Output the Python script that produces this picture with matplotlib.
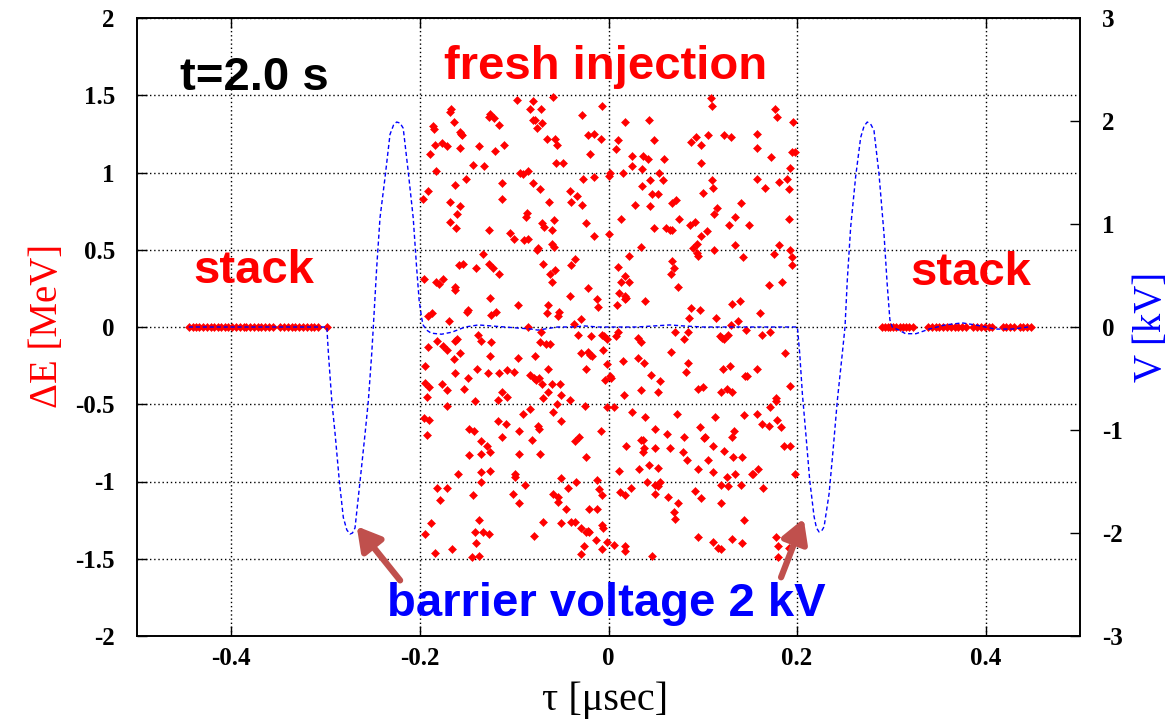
import numpy as np
import matplotlib.pyplot as plt

# freshly injected particles: (tau [usec], dE [MeV]), one list per area of the bucket
fresh_upper_left = [
    (-0.097, 1.47), (-0.080, 1.46), (-0.059, 1.49), (-0.167, 1.41), (-0.168, 1.39),
    (-0.083, 1.41), (-0.072, 1.41), (-0.126, 1.38), (-0.127, 1.36), (-0.121, 1.35),
    (-0.028, 1.37), (-0.164, 1.33), (-0.080, 1.34), (-0.078, 1.34), (-0.070, 1.32),
    (-0.116, 1.31), (-0.186, 1.30), (-0.185, 1.28), (-0.076, 1.29), (-0.158, 1.26),
    (-0.156, 1.25), (-0.155, 1.24), (-0.022, 1.24), (-0.015, 1.25), (-0.065, 1.22),
    (-0.057, 1.22), (-0.184, 1.18), (-0.177, 1.19), (-0.171, 1.17), (-0.157, 1.16),
    (-0.137, 1.17), (-0.111, 1.18), (-0.055, 1.18), (-0.120, 1.14), (-0.189, 1.12),
    (-0.020, 1.12), (-0.144, 1.05), (-0.132, 1.04), (-0.056, 1.06), (-0.048, 1.06),
    (-0.183, 1.01), (-0.094, 1.00), (-0.091, 0.99), (-0.085, 1.01), (-0.151, 0.96),
    (-0.015, 0.97), (-0.027, 0.96), (-0.163, 0.92), (-0.113, 0.93), (-0.080, 0.93),
    (-0.191, 0.88), (-0.073, 0.89), (-0.041, 0.88), (-0.197, 0.83), (-0.168, 0.81),
    (-0.113, 0.83), (-0.033, 0.85), (-0.063, 0.81), (-0.040, 0.81), (-0.157, 0.78),
    (-0.028, 0.79), (-0.086, 0.74), (-0.161, 0.73), (-0.088, 0.71), (-0.168, 0.68),
    (-0.071, 0.67), (-0.068, 0.65), (-0.058, 0.69), (-0.024, 0.67), (-0.162, 0.64),
    (-0.127, 0.63), (-0.060, 0.63), (-0.104, 0.61), (-0.100, 0.57), (-0.090, 0.56),
    (-0.085, 0.57), (-0.015, 0.59), (-0.075, 0.51), (-0.060, 0.54), (-0.058, 0.52),
]

fresh_upper_right = [
    (0.109, 1.485), (-0.007, 1.43), (0.110, 1.43), (0.177, 1.41), (0.179, 1.36),
    (0.018, 1.33), (0.043, 1.34), (0.196, 1.33), (-0.008, 1.22), (0.010, 1.21),
    (0.048, 1.21), (0.087, 1.20), (0.093, 1.23), (0.098, 1.18), (0.106, 1.24),
    (0.123, 1.24), (0.130, 1.23), (0.157, 1.25), (0.158, 1.16), (0.008, 1.15),
    (0.025, 1.11), (0.037, 1.11), (0.042, 1.09), (0.059, 1.09), (0.172, 1.10),
    (0.195, 1.13), (0.198, 1.13), (0.098, 1.06), (0.025, 1.04), (0.036, 1.02),
    (0.193, 1.03), (0.002, 1.00), (0.001, 0.98), (0.015, 1.00), (0.054, 1.00),
    (0.110, 0.95), (0.158, 0.96), (0.189, 0.96), (0.044, 0.95), (0.058, 0.95),
    (0.036, 0.91), (0.111, 0.90), (0.166, 0.90), (0.181, 0.94), (0.191, 0.89),
    (0.100, 0.87), (0.046, 0.86), (0.053, 0.86), (0.067, 0.80), (0.072, 0.82),
    (0.141, 0.80), (0.028, 0.79), (0.044, 0.78), (0.115, 0.77), (0.112, 0.73),
    (0.013, 0.70), (0.075, 0.70), (0.134, 0.71), (0.191, 0.70), (0.048, 0.64),
    (0.061, 0.64), (0.065, 0.63), (0.067, 0.63), (0.086, 0.66), (0.092, 0.68),
    (0.128, 0.66), (0.149, 0.66), (0.104, 0.62), (0.098, 0.59), (0.000, 0.60),
    (0.094, 0.54), (0.090, 0.51), (0.034, 0.52), (0.134, 0.53), (0.181, 0.53),
    (0.112, 0.50), (0.193, 0.50),
]

fresh_mid_left = [
    (-0.076, 0.50), (-0.133, 0.47), (-0.159, 0.40), (-0.154, 0.41), (-0.140, 0.38),
    (-0.127, 0.41), (-0.123, 0.38), (-0.116, 0.34), (-0.069, 0.41), (-0.062, 0.34),
    (-0.057, 0.37), (-0.060, 0.29), (-0.040, 0.40), (-0.035, 0.44), (-0.196, 0.31),
    (-0.183, 0.29), (-0.180, 0.28), (-0.176, 0.31), (-0.163, 0.26), (-0.163, 0.24),
    (-0.126, 0.19), (-0.022, 0.25), (-0.041, 0.20), (-0.012, 0.18), (-0.011, 0.13),
    (-0.096, 0.14), (-0.064, 0.14), (-0.149, 0.11), (-0.150, 0.10), (-0.187, 0.09),
    (-0.191, 0.07), (-0.125, 0.08), (-0.119, 0.10), (-0.065, 0.09), (-0.053, 0.10),
    (-0.054, 0.07), (-0.169, 0.04), (-0.029, 0.05), (-0.037, 0.02), (-0.085, 0.00),
    (-0.072, -0.03), (-0.138, -0.05), (-0.135, -0.09), (-0.125, -0.10), (-0.182, -0.09),
    (-0.191, -0.13), (-0.176, -0.12), (-0.171, -0.15), (-0.161, -0.08), (-0.163, -0.09),
    (-0.158, -0.17), (-0.164, -0.21), (-0.126, -0.19), (-0.096, -0.20), (-0.073, -0.10),
    (-0.066, -0.11), (-0.062, -0.11), (-0.078, -0.19), (-0.064, -0.27), (-0.032, -0.05),
    (-0.019, -0.06), (-0.029, -0.17), (-0.022, -0.16), (-0.020, -0.18), (-0.018, -0.19),
    (-0.024, -0.27), (-0.195, -0.25), (-0.163, -0.30), (-0.139, -0.27), (-0.128, -0.30),
    (-0.116, -0.30), (-0.108, -0.28), (-0.100, -0.29), (-0.083, -0.31), (-0.079, -0.33),
    (-0.077, -0.34), (-0.074, -0.33), (-0.149, -0.33), (-0.195, -0.36), (-0.190, -0.39),
    (-0.177, -0.37), (-0.171, -0.41), (-0.153, -0.40), (-0.071, -0.37), (-0.064, -0.42),
    (-0.060, -0.37), (-0.051, -0.37), (-0.050, -0.44), (-0.192, -0.45), (-0.142, -0.48),
    (-0.117, -0.47), (-0.113, -0.42), (-0.108, -0.45), (-0.069, -0.46), (-0.055, -0.50),
    (-0.041, -0.47), (-0.025, -0.51), (-0.171, -0.51), (-0.083, -0.53),
]

fresh_mid_right = [
    (0.094, 0.48), (0.095, 0.46), (0.022, 0.46), (0.067, 0.43), (0.069, 0.38),
    (0.066, 0.34), (0.010, 0.39), (0.017, 0.33), (0.013, 0.29), (0.022, 0.29),
    (0.011, 0.22), (0.017, 0.20), (0.019, 0.19), (0.018, 0.18), (0.009, 0.14),
    (0.039, 0.17), (0.074, 0.26), (0.143, 0.45), (0.175, 0.47), (0.195, 0.45),
    (0.195, 0.40), (0.170, 0.27), (0.184, 0.29), (0.087, 0.12), (0.097, 0.11),
    (0.085, 0.06), (0.114, 0.06), (0.131, 0.15), (0.139, 0.17), (0.137, 0.04),
    (0.161, 0.09), (0.130, 0.01), (-0.007, -0.05), (-0.005, -0.06), (-0.002, -0.08),
    (0.010, -0.03), (0.008, -0.06), (-0.006, -0.15), (-0.002, -0.24), (-0.004, -0.34),
    (0.002, -0.32), (0.003, -0.33), (0.070, -0.03), (0.084, -0.03), (0.080, -0.08),
    (0.031, -0.07), (0.034, -0.10), (0.118, -0.06), (0.120, -0.07), (0.122, -0.08),
    (0.127, -0.05), (0.146, -0.02), (0.163, -0.05), (0.171, -0.03), (0.187, -0.17),
    (0.066, -0.16), (0.015, -0.22), (0.031, -0.20), (0.038, -0.23), (0.084, -0.23),
    (0.082, -0.29), (0.121, -0.27), (0.129, -0.25), (0.045, -0.31), (0.055, -0.35),
    (0.145, -0.32), (0.147, -0.32), (0.158, -0.27), (0.192, -0.38), (0.034, -0.41),
    (0.052, -0.42), (0.095, -0.40), (0.100, -0.39), (0.119, -0.42), (0.126, -0.40),
    (0.131, -0.42), (0.016, -0.44), (0.178, -0.46), (0.178, -0.48),
]

fresh_lower_left = [
    (-0.196, -0.59), (-0.190, -0.60), (-0.192, -0.70), (-0.148, -0.66), (-0.143, -0.67),
    (-0.135, -0.74), (-0.129, -0.77), (-0.126, -0.81), (-0.135, -0.82), (-0.148, -0.83),
    (-0.117, -0.61), (-0.109, -0.63), (-0.113, -0.71), (-0.095, -0.67), (-0.091, -0.56),
    (-0.081, -0.73), (-0.095, -0.82), (-0.073, -0.82), (-0.075, -0.64), (-0.074, -0.66),
    (-0.059, -0.55), (-0.050, -0.61), (-0.036, -0.74), (-0.031, -0.71), (-0.024, -0.84),
    (-0.160, -0.95), (-0.135, -0.94), (-0.135, -1.00), (-0.126, -0.93), (-0.099, -0.95),
    (-0.099, -0.97), (-0.089, -1.02), (-0.050, -0.98), (-0.034, -1.00), (-0.012, -0.99),
    (-0.182, -1.04), (-0.171, -1.04), (-0.179, -1.12), (-0.144, -1.09), (-0.101, -1.08),
    (-0.095, -1.14), (-0.059, -1.08), (-0.054, -1.10), (-0.054, -1.13), (-0.043, -1.04),
    (-0.010, -1.05), (-0.045, -1.18), (-0.021, -1.18), (-0.012, -1.18), (-0.188, -1.27),
    (-0.195, -1.34), (-0.137, -1.25), (-0.142, -1.33), (-0.133, -1.33), (-0.127, -1.34),
    (-0.141, -1.40), (-0.137, -1.48), (-0.145, -1.49), (-0.166, -1.44), (-0.184, -1.46),
    (-0.069, -1.26), (-0.050, -1.27), (-0.040, -1.26), (-0.036, -1.26), (-0.079, -1.35),
    (-0.029, -1.30), (-0.024, -1.33), (-0.022, -1.32), (-0.021, -1.33), (-0.013, -1.38),
    (-0.026, -1.42), (-0.029, -1.47),
]

fresh_lower_right = [
    (-0.002, -0.52), (0.006, -0.52), (0.025, -0.55), (0.039, -0.58), (0.073, -0.56),
    (0.113, -0.58), (0.144, -0.57), (0.157, -0.56), (0.171, -0.52), (-0.008, -0.67),
    (0.049, -0.66), (0.062, -0.69), (0.080, -0.71), (0.097, -0.65), (0.101, -0.72),
    (0.102, -0.71), (0.131, -0.71), (0.133, -0.67), (0.163, -0.63), (0.170, -0.64),
    (0.179, -0.60), (0.183, -0.65), (0.019, -0.77), (0.034, -0.73), (0.037, -0.73),
    (0.038, -0.78), (0.037, -0.81), (0.049, -0.78), (0.065, -0.78), (0.079, -0.81),
    (0.083, -0.86), (0.105, -0.86), (0.111, -0.77), (0.123, -0.80), (0.132, -0.84),
    (0.142, -0.84), (0.186, -0.77), (0.192, -0.77), (0.011, -0.93), (0.032, -0.92),
    (0.043, -0.89), (0.053, -0.91), (0.095, -0.92), (0.111, -0.94), (0.126, -0.97),
    (0.134, -0.95), (0.152, -0.95), (0.153, -0.95), (0.159, -0.92), (0.198, -0.95),
    (0.041, -1.00), (0.049, -1.02), (0.053, -1.03), (0.055, -1.00), (0.024, -1.04),
    (0.012, -1.07), (0.017, -1.09), (-0.007, -1.09), (0.049, -1.08), (0.063, -1.10),
    (0.074, -1.14), (0.092, -1.06), (0.098, -1.11), (0.119, -1.02), (0.127, -1.03),
    (0.141, -1.02), (0.164, -1.04), (0.119, -1.14), (0.069, -1.20), (0.071, -1.24),
    (0.144, -1.25), (-0.007, -1.28), (-0.006, -1.30), (0.095, -1.36), (0.111, -1.39),
    (0.131, -1.37), (0.142, -1.40), (0.178, -1.36), (0.180, -1.42), (-0.002, -1.39),
    (0.006, -1.41), (0.017, -1.42), (0.017, -1.45), (-0.007, -1.44), (0.116, -1.43),
    (0.119, -1.44), (0.046, -1.48), (0.180, -1.49), (0.191, -1.43),
]

# stacked beam sitting at dE = 0 outside the barriers
stack_left_tau = [
    -0.445, -0.441, -0.437, -0.434, -0.430, -0.426, -0.422, -0.418, -0.414, -0.411,
    -0.407, -0.403, -0.399, -0.395, -0.391, -0.387, -0.384, -0.380, -0.376, -0.372,
    -0.368, -0.364, -0.360, -0.356, -0.348, -0.344, -0.340, -0.336, -0.332, -0.328,
    -0.324, -0.320, -0.316, -0.312, -0.308, -0.298,
]
stack_right_tau = [
    0.290, 0.293, 0.296, 0.299, 0.302, 0.305, 0.309, 0.312, 0.316, 0.319,
    0.323, 0.339, 0.343, 0.347, 0.351, 0.355, 0.359, 0.363, 0.367, 0.371,
    0.375, 0.379, 0.387, 0.391, 0.395, 0.399, 0.403, 0.407, 0.418, 0.422,
    0.426, 0.430, 0.436, 0.440, 0.444, 0.448,
]

# barrier voltage waveform (tau [usec], V [kV])
volt_tau = [
    -0.445, -0.2987, -0.2970, -0.2934, -0.2899, -0.2854, -0.2812, -0.2775, -0.2741,
    -0.2715, -0.2688, -0.2635, -0.2582, -0.2547, -0.2511, -0.2494, -0.2458, -0.2423,
    -0.2370, -0.2317, -0.2280, -0.2247, -0.2210, -0.2177, -0.2124, -0.2071, -0.2035,
    -0.2008, -0.1982, -0.1966, -0.1929, -0.188, -0.177, -0.166, -0.152, -0.138,
    -0.124, -0.110, -0.096, -0.082, -0.075, -0.068, -0.054, -0.039, -0.025, -0.011,
    0.030, 0.065, 0.080, 0.100, 0.140, 0.2003, 0.2028, 0.2056, 0.2092, 0.2134,
    0.2180, 0.2205, 0.2233, 0.2260, 0.2286, 0.2339, 0.2381, 0.2427, 0.2479, 0.2508,
    0.2532, 0.2568, 0.2621, 0.2674, 0.2710, 0.2744, 0.2780, 0.2815, 0.2868, 0.2921,
    0.2955, 0.2984, 0.3009, 0.308, 0.315, 0.326, 0.334, 0.340, 0.357, 0.375,
    0.389, 0.410, 0.428, 0.445,
]
volt_kv = [
    0.0, 0.0, -0.26, -0.72, -1.04, -1.50, -1.85, -1.97, -2.01,
    -2.00, -1.95, -1.50, -1.04, -0.72, -0.26, 0.0, 0.58, 1.06,
    1.45, 1.87, 1.96, 1.99, 1.98, 1.93, 1.51, 1.06, 0.58,
    0.26, 0.09, 0.02, -0.03, -0.06, -0.07, -0.05, 0.0, 0.02,
    0.01, 0.0, -0.01, -0.02, -0.03, -0.02, 0.0, 0.0, 0.01, 0.0,
    0.0, 0.02, 0.01, 0.0, 0.0, 0.0, -0.26, -0.65, -1.03, -1.49,
    -1.84, -1.95, -1.99, -1.98, -1.94, -1.62, -1.20, -0.71, -0.26, 0.0,
    0.45, 0.97, 1.46, 1.84, 1.95, 1.99, 1.97, 1.91, 1.49, 0.91,
    0.42, 0.07, 0.0, -0.03, -0.065, -0.065, -0.04, -0.02, 0.02, 0.04,
    0.02, -0.02, -0.02, 0.0,
]

x_ticks = [-0.4, -0.2, 0.0, 0.2, 0.4]
x_labels = ['-0.4', '-0.2', '0', '0.2', '0.4']
y_ticks = [-2, -1.5, -1, -0.5, 0, 0.5, 1, 1.5, 2]
y_labels = ['-2', '-1.5', '-1', '-0.5', '0', '0.5', '1', '1.5', '2']
y2_ticks = [-3, -2, -1, 0, 1, 2, 3]
y2_labels = ['-3', '-2', '-1', '0', '1', '2', '3']

fresh = np.array(fresh_upper_left + fresh_upper_right + fresh_mid_left
                 + fresh_mid_right + fresh_lower_left + fresh_lower_right)
stack_tau = np.array(stack_left_tau + stack_right_tau)
stack_de = np.zeros(len(stack_tau))

W, H = 1173, 720
fig = plt.figure(figsize=(W / 100, H / 100), dpi=100)
ax = fig.add_axes([137 / W, 84 / H, 943 / W, 618 / H])
ax2 = ax.twinx()

ax.set_xlim(-0.5, 0.5)
ax.set_ylim(-2, 2)
ax2.set_ylim(-3, 3)

tick_font = dict(family='Liberation Serif', weight='bold', size=18)
ax.set_xticks(x_ticks)
ax.set_xticklabels(x_labels, fontdict=tick_font)
ax.set_yticks(y_ticks)
ax.set_yticklabels(y_labels, fontdict=tick_font)
ax2.set_yticks(y2_ticks)
ax2.set_yticklabels(y2_labels, fontdict=tick_font)

ax.tick_params(axis='x', direction='in', length=7, width=1, top=True, pad=8)
ax.tick_params(axis='y', direction='in', length=7, width=1, right=False, pad=16)
ax2.tick_params(direction='in', length=7, width=1, pad=16)
for a in (ax, ax2):
    for s in a.spines.values():
        s.set_linewidth(1.2)

ax.grid(True, color='black', linestyle=(0, (1, 2)), linewidth=1.0)
ax.set_axisbelow(True)

# particles
ax.plot(fresh[:, 0], fresh[:, 1], 'D', color='red', ms=4.0, mew=0.4, linestyle='none')
ax.plot(stack_tau, stack_de, 'D', color='red', ms=4.0, mew=0.4, linestyle='none')

# barrier voltage
ax2.plot(volt_tau, volt_kv, color='blue', lw=1.0, linestyle=(0, (3, 2)))

# labels and annotations
sans = 'Liberation Sans'
ax.text(-0.375, 1.61, 't=2.0 s', fontsize=34, fontweight='bold', family=sans,
        color='black', ha='center', va='center')
ax.text(-0.003, 1.68, 'fresh injection', fontsize=34, fontweight='bold', family=sans,
        color='red', ha='center', va='center')
ax.text(-0.376, 0.36, 'stack', fontsize=34, fontweight='bold', family=sans,
        color='red', ha='center', va='center')
ax.text(0.384, 0.35, 'stack', fontsize=34, fontweight='bold', family=sans,
        color='red', ha='center', va='center')
ax.text(-0.002, -1.79, 'barrier voltage 2 kV', fontsize=34, fontweight='bold',
        family=sans, color='blue', ha='center', va='center')

arrow = dict(arrowstyle='-|>,head_length=0.7,head_width=0.4', color='#c0504d',
             lw=4.5, mutation_scale=20, shrinkA=0, shrinkB=0)
ax.annotate('', xy=(-0.267, -1.29), xytext=(-0.221, -1.64), arrowprops=arrow)
ax.annotate('', xy=(0.207, -1.24), xytext=(0.183, -1.62), arrowprops=arrow)

serif = 'Liberation Serif'
fig.text(48 / W, 1 - 326 / H, 'ΔE [MeV]', rotation=90, color='red', family=serif,
         fontsize=28, ha='center', va='center')
fig.text(1152 / W, 1 - 327 / H, 'V [kV]', rotation=90, color='blue', family=serif,
         fontsize=28, ha='center', va='center')
fig.text(605 / W, 1 - 700 / H, 'τ [μsec]', color='black', family=serif,
         fontsize=29, ha='center', va='center')

fig.savefig('out.png', dpi=100)
